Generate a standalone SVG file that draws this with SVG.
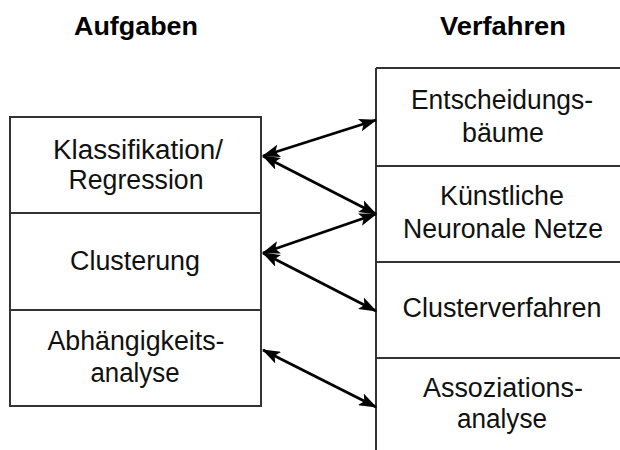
<svg xmlns="http://www.w3.org/2000/svg" width="620" height="450" viewBox="0 0 620 450">
<defs>
<marker id="ah" markerUnits="userSpaceOnUse" markerWidth="18" markerHeight="13" viewBox="0 0 18 13" refX="17" refY="6.5" orient="auto-start-reverse">
<path d="M0,0 L18,6.5 L0,13 L4,6.5 Z" fill="#000"/>
</marker>
</defs>
<style>
.t{font-family:"Liberation Sans",Arial,sans-serif;font-size:27px;fill:#111;text-anchor:middle}
.h{font-family:"Liberation Sans",Arial,sans-serif;font-size:26.5px;font-weight:bold;fill:#000;text-anchor:middle}
.box{fill:#fff;stroke:#333;stroke-width:2}
.ln{stroke:#333;stroke-width:2;fill:none}
.ar{stroke:#000;stroke-width:2.8;fill:none;marker-start:url(#ah);marker-end:url(#ah)}
</style>
<rect width="620" height="450" fill="#fff"/>
<g id="titles">
<text class="h" x="136" y="35" textLength="124" lengthAdjust="spacingAndGlyphs">Aufgaben</text>
<text class="h" x="503" y="35" textLength="126" lengthAdjust="spacingAndGlyphs">Verfahren</text>
</g>
<g id="aufgaben">
<g id="klassifikation">
<rect class="box" x="10" y="117" width="251" height="96"/>
<text class="t" x="138" y="159" textLength="170" lengthAdjust="spacingAndGlyphs">Klassifikation/</text>
<text class="t" x="136" y="189" textLength="135" lengthAdjust="spacingAndGlyphs">Regression</text>
</g>
<g id="clusterung">
<rect class="box" x="10" y="213" width="251" height="97"/>
<text class="t" x="135" y="270" textLength="130" lengthAdjust="spacingAndGlyphs">Clusterung</text>
</g>
<g id="abhaengigkeit">
<rect class="box" x="10" y="310" width="251" height="96"/>
<text class="t" x="136" y="350" textLength="177" lengthAdjust="spacingAndGlyphs">Abhängigkeits-</text>
<text class="t" x="135" y="382" textLength="89" lengthAdjust="spacingAndGlyphs">analyse</text>
</g>
</g>
<g id="verfahren">
<path class="ln" d="M376,68 V450"/>
<g id="entscheidung">
<path class="ln" d="M376,68 H620"/>
<text class="t" x="502" y="109" textLength="182" lengthAdjust="spacingAndGlyphs">Entscheidungs-</text>
<text class="t" x="503" y="142" textLength="82" lengthAdjust="spacingAndGlyphs">bäume</text>
</g>
<g id="knn">
<path class="ln" d="M376,166 H620"/>
<text class="t" x="502" y="205" textLength="124" lengthAdjust="spacingAndGlyphs">Künstliche</text>
<text class="t" x="503" y="238" textLength="200" lengthAdjust="spacingAndGlyphs">Neuronale Netze</text>
</g>
<g id="clusterverfahren">
<path class="ln" d="M376,262 H620"/>
<text class="t" x="502" y="317" textLength="199" lengthAdjust="spacingAndGlyphs">Clusterverfahren</text>
</g>
<g id="assoziation">
<path class="ln" d="M376,358 H620"/>
<text class="t" x="503" y="397" textLength="160" lengthAdjust="spacingAndGlyphs">Assoziations-</text>
<text class="t" x="502" y="428" textLength="90" lengthAdjust="spacingAndGlyphs">analyse</text>
</g>
</g>
<g id="connectors">
<line class="ar" x1="263" y1="156" x2="376" y2="120"/>
<line class="ar" x1="263" y1="156" x2="376" y2="214"/>
<line class="ar" x1="263" y1="253" x2="376" y2="214"/>
<line class="ar" x1="263" y1="253" x2="376" y2="311"/>
<line class="ar" x1="263" y1="350" x2="376" y2="407"/>
</g>
</svg>
